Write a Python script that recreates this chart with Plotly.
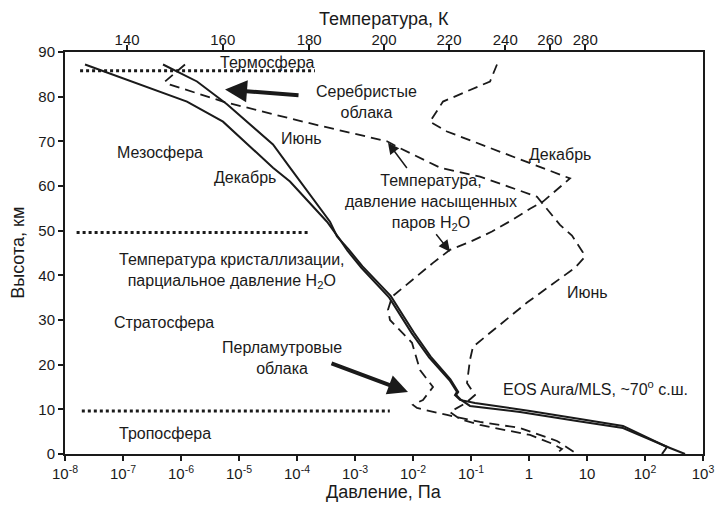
import numpy as np
import plotly.graph_objects as go

# Partial pressure of H2O (solid lines), log10 of pressure in Pa vs altitude, km
dec_h2o_alt = [87.2, 78.9, 74.4, 64.1, 61.0, 52.0, 48.0, 45.5, 41.7, 35.0, 27.0, 21.6,
               16.5, 13.9, 13.2, 12.1, 11.4, 9.64, 7.85, 6.28, 1.57, 0]
dec_h2o_logp = [-7.655, -5.897, -5.276, -4.414, -4.121, -3.483, -3.259, -3.13, -2.89, -2.41,
                -2.02, -1.72, -1.37, -1.241, -1.276, -1.19, -0.931, 0.017, 0.879, 1.621, 2.379, 2.293]

jun_h2o_alt = [87.2, 83.4, 78.3, 69.3, 64.1, 52.0, 48.7, 45.8, 42.0, 35.4, 27.2, 21.8,
               16.7, 13.9, 13.2, 12.1, 10.76, 9.42, 7.40, 5.83, 1.35, 0]
jun_h2o_logp = [-6.31, -5.724, -5.207, -4.414, -4.121, -3.431, -3.31, -3.11, -2.87, -2.385,
                -1.985, -1.695, -1.355, -1.22, -1.256, -1.17, -1.017, -0.155, 0.828, 1.621, 2.431, 2.69]

# Temperature profiles expressed as saturation vapour pressure (dashed lines)
jun_temp_alt = [87.2, 83.4, 82.7, 78.9, 74.4, 70.4, 70.0, 68.8, 64.1, 62.1, 57.6, 51.3,
                48.9, 45.1, 43.9, 41.7, 33.9, 24.0, 21.1, 15.9, 13.2, 11.4, 9.4, 7.85,
                6.5, 4.26, 2.24, 1.12, 0]
jun_temp_logp = [-5.931, -6.276, -6.19, -5.276, -3.897, -2.569, -2.448, -2.276, -1.534, -0.845,
                 0.138, 0.534, 0.741, 0.931, 0.948, 0.793, -0.034, -0.966, -1.017, -1.069,
                 -0.931, -1.093, -1.362, -1.19, -0.845, 0.017, 0.414, 0.569, 0.466]

dec_temp_alt = [87.2, 83.4, 78.9, 74.4, 72.2, 61.7, 56.5, 54.9, 52.5, 49.8, 47.5, 45.7,
                42.8, 37.4, 35.2, 32.3, 30.0, 24.9, 18.8, 15.0, 12.1, 11.0, 10.3, 8.74,
                7.17, 5.83, 2.91, 0]
dec_temp_logp = [-0.552, -0.672, -1.483, -1.707, -1.414, 0.707, 0.241, 0.017, -0.276, -0.638,
                 -1.017, -1.362, -1.655, -2.172, -2.362, -2.431, -2.397, -2.017, -1.879, -1.655,
                 -1.828, -2.0, -1.931, -1.414, -0.845, -0.155, 0.483, 0.828]

# Layer boundaries (dotted): altitude and extent in log10 pressure
boundary_alt = [85.8, 49.6, 9.6]
boundary_logp_start = [-7.74, -7.8, -7.71]
boundary_logp_end = [-3.69, -3.78, -2.40]

# Bottom axis: pressure decades
p_tick_exp = list(range(-8, 4))
p_tick_text = ["10<sup>-8</sup>", "10<sup>-7</sup>", "10<sup>-6</sup>", "10<sup>-5</sup>",
               "10<sup>-4</sup>", "10<sup>-3</sup>", "10<sup>-2</sup>", "10<sup>-1</sup>",
               "1", "10", "10<sup>2</sup>", "10<sup>3</sup>"]

# Top axis: temperature marks placed at their equivalent pressure
temp_ticks = [140, 160, 180, 200, 220, 240, 260, 280]
temp_tick_logp = [-6.93, -5.28, -3.79, -2.50, -1.38, -0.41, 0.36, 0.97]

FONT = "Liberation Sans, Arial, Helvetica, sans-serif"
INK = "#1a1a1a"

fig = go.Figure()

def pa(logp):
    return list(10.0 ** np.array(logp, dtype=float))

solid = dict(color=INK, width=2)
dashed = dict(color=INK, width=1.8, dash="10px,6px")

fig.add_trace(go.Scatter(x=pa(dec_h2o_logp), y=dec_h2o_alt, mode="lines", line=solid,
                         name="H2O, Декабрь", hoverinfo="skip"))
fig.add_trace(go.Scatter(x=pa(jun_h2o_logp), y=jun_h2o_alt, mode="lines", line=solid,
                         name="H2O, Июнь", hoverinfo="skip"))
fig.add_trace(go.Scatter(x=pa(jun_temp_logp), y=jun_temp_alt, mode="lines", line=dashed,
                         name="T, Июнь", xaxis="x2", hoverinfo="skip"))
fig.add_trace(go.Scatter(x=pa(dec_temp_logp), y=dec_temp_alt, mode="lines", line=dashed,
                         name="T, Декабрь", xaxis="x2", hoverinfo="skip"))

for a, s, e in zip(boundary_alt, boundary_logp_start, boundary_logp_end):
    fig.add_trace(go.Scatter(x=pa([s, e]), y=[a, a], mode="lines",
                             line=dict(color=INK, width=3, dash="3px,3px"),
                             showlegend=False, hoverinfo="skip"))

annotations = []

def label(text, logp, alt):
    annotations.append(dict(text=text, x=logp, y=alt, xref="x", yref="y", showarrow=False,
                            font=dict(family=FONT, size=16, color=INK), align="center"))

label("Термосфера", -4.517, 87.7)
label("Серебристые<br>облака", -2.81, 78.8)
label("Мезосфера", -6.362, 67.5)
label("Июнь", -3.931, 70.6)
label("Декабрь", -4.897, 61.9)
label("Декабрь", 0.534, 67.0)
label("Температура,<br>давление насыщенных<br>паров H<sub>2</sub>O", -1.69, 56.3)
label("Температура кристаллизации,<br>парциальное давление H<sub>2</sub>O", -5.121, 41.0)
label("Июнь", 1.017, 36.1)
label("Стратосфера", -6.293, 29.4)
label("Перламутровые<br>облака", -4.259, 21.5)
label("EOS Aura/MLS, ~70<sup>o</sup> с.ш.", 1.155, 14.8)
label("Тропосфера", -6.276, 4.7)

def arrow(tail, tip, width, size):
    annotations.append(dict(text="", x=tip[0], y=tip[1], ax=tail[0], ay=tail[1],
                            xref="x", yref="y", axref="x", ayref="y", showarrow=True,
                            arrowhead=2, arrowwidth=width, arrowsize=size,
                            arrowcolor=INK, standoff=0))

arrow((-3.948, 80.3), (-5.241, 81.6), 4, 1.1)
arrow((-2.086, 63.7), (-2.431, 69.7), 1.5, 1.5)
arrow((-1.621, 49.55), (-1.362, 45.3), 1.5, 1.5)
arrow((-3.431, 20.4), (-2.086, 13.9), 4, 1.0)

# Axis titles
title_font = dict(family=FONT, size=18, color=INK)
annotations.append(dict(text="Температура, К", xref="paper", yref="paper", x=0.5, y=1.083,
                        xanchor="center", yanchor="middle", showarrow=False, font=title_font))
annotations.append(dict(text="Давление, Па", xref="paper", yref="paper", x=0.5, y=-0.095,
                        xanchor="center", yanchor="middle", showarrow=False, font=title_font))
annotations.append(dict(text="Высота, км", xref="paper", yref="paper", x=-0.074, y=0.5,
                        xanchor="center", yanchor="middle", textangle=-90,
                        showarrow=False, font=title_font))

axis_common = dict(type="log", range=[-8, 3], showgrid=False, zeroline=False,
                   showline=True, linecolor=INK, linewidth=2, ticks="outside",
                   tickcolor=INK, tickwidth=1.5, ticklen=5, automargin=False,
                   tickfont=dict(family=FONT, size=15, color=INK))

fig.update_layout(
    width=716, height=507,
    margin=dict(l=65, r=13, t=52, b=53, autoexpand=False),
    paper_bgcolor="white", plot_bgcolor="white",
    showlegend=False,
    annotations=annotations,
    xaxis=dict(**axis_common, tickvals=pa(p_tick_exp), ticktext=p_tick_text),
    xaxis2=dict(**axis_common, overlaying="x", side="top", anchor="y",
                ticklabelstandoff=-6,
                tickvals=pa(temp_tick_logp), ticktext=[str(t) for t in temp_ticks]),
    yaxis=dict(range=[0, 90], dtick=10, showgrid=False, zeroline=False,
               showline=True, mirror=True, linecolor=INK, linewidth=2, automargin=False,
               ticks="outside", tickcolor=INK, tickwidth=1.5, ticklen=5,
               tickfont=dict(family=FONT, size=15, color=INK)),
)

fig.write_html("out.html")
